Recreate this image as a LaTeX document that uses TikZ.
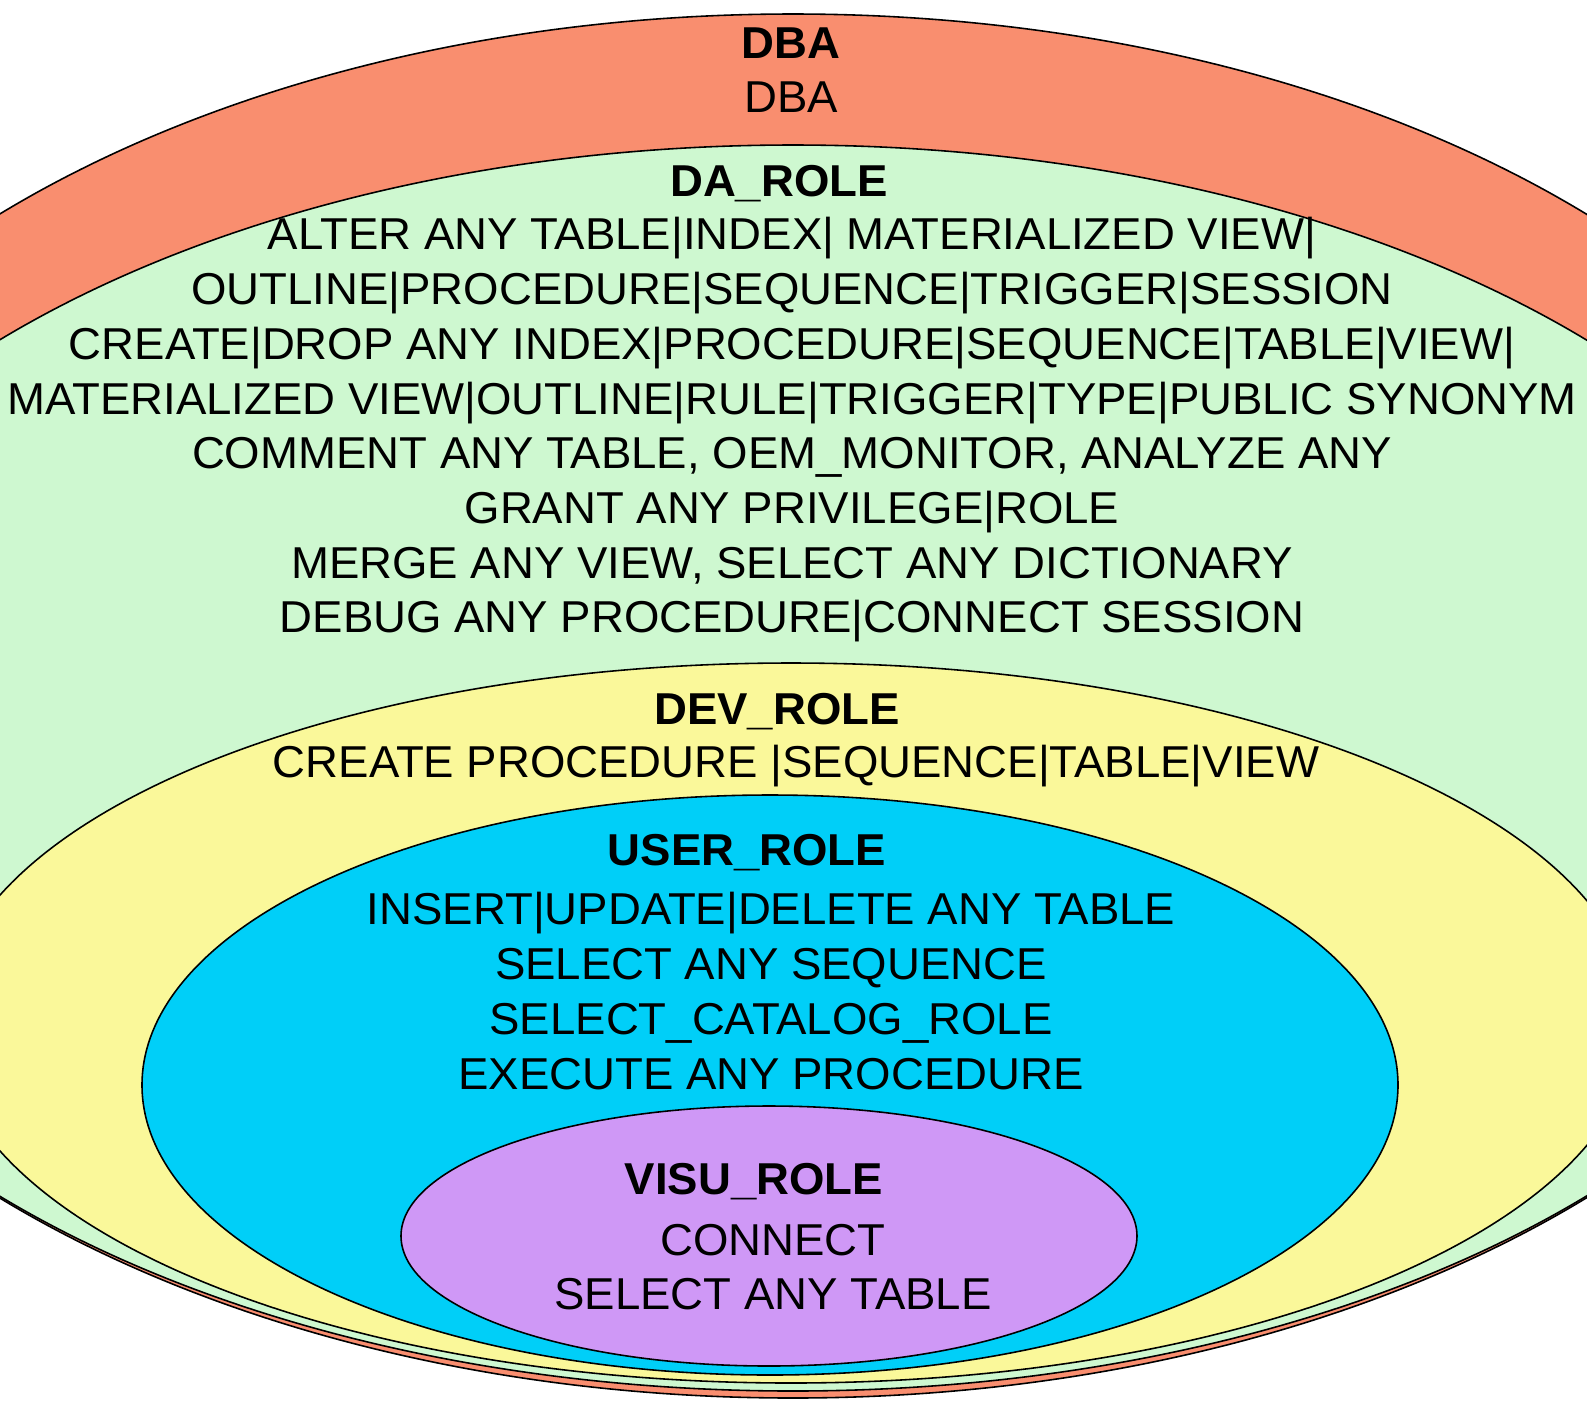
\documentclass[tikz,border=0pt]{standalone}
\usepackage{fontspec}
\newfontfamily\rolefont[FakeStretch=1.02]{Liberation Sans}
\usepackage{xcolor}
\definecolor{dbaRed}{HTML}{F98E6F}
\definecolor{daGreen}{HTML}{CEF8D0}
\definecolor{devYellow}{HTML}{FAF89A}
\definecolor{userBlue}{HTML}{00CFF8}
\definecolor{visuPurple}{HTML}{CF98F6}
\usetikzlibrary{positioning}

\begin{document}
\begin{tikzpicture}[x=0.01cm,y=-0.01cm,
    role/.style={draw=black,line width=0.45pt},
    roletitle/.style={font=\rolefont\bfseries\fontsize{12.7}{15.56}\selectfont,inner sep=0pt},
    privs/.style={align=center,font=\rolefont\fontsize{12.7}{15.56}\selectfont,inner sep=0pt}]
    \useasboundingbox (0,0) rectangle (1587,1402);
    \clip (0,0) rectangle (1587,1402);
    % nested roles, outermost first
    \filldraw[role,fill=dbaRed] (793,706) ellipse [x radius=1128,y radius=692];
    \filldraw[role,fill=daGreen] (793,768) ellipse [x radius=1092,y radius=623];
    \filldraw[role,fill=devYellow] (791,1023) ellipse [x radius=846,y radius=360];
    \filldraw[role,fill=userBlue] (770,1085) ellipse [x radius=628,y radius=290];
    \filldraw[role,fill=visuPurple] (769,1236) ellipse [x radius=368,y radius=130];
    % labels
    \node[roletitle] (dbaTitle) at (791,43) {DBA};
    \node[privs] (dbaPrivs) at (791,97) {DBA};
    \node[roletitle] (daTitle) at (779,184) {DA\_ROLE};
    \node[privs] (daPrivs) at (792,430) {ALTER ANY TABLE|INDEX| MATERIALIZED VIEW|\\
      OUTLINE|PROCEDURE|SEQUENCE|TRIGGER|SESSION\\
      CREATE|DROP ANY INDEX|PROCEDURE|SEQUENCE|TABLE|VIEW|\\
      MATERIALIZED VIEW|OUTLINE|RULE|TRIGGER|TYPE|PUBLIC SYNONYM\\
      COMMENT ANY TABLE, OEM\_MONITOR, ANALYZE ANY\\
      GRANT ANY PRIVILEGE|ROLE\\
      MERGE ANY VIEW, SELECT ANY DICTIONARY\\
      DEBUG ANY PROCEDURE|CONNECT SESSION};
    \node[roletitle] (devTitle) at (777,712) {DEV\_ROLE};
    \node[privs] (devPrivs) at (796,766) {CREATE PROCEDURE |SEQUENCE|TABLE|VIEW};
    \node[roletitle] (userTitle) at (747,853) {USER\_ROLE};
    \node[privs] (userPrivs) at (771,991) {INSERT|UPDATE|DELETE ANY TABLE\\
      SELECT ANY SEQUENCE\\
      SELECT\_CATALOG\_ROLE\\
      EXECUTE ANY PROCEDURE};
    \node[roletitle] (visuTitle) at (754,1182) {VISU\_ROLE};
    \node[privs] (visuPrivs) at (773,1267) {CONNECT\\SELECT ANY TABLE};
\end{tikzpicture}
\end{document}
